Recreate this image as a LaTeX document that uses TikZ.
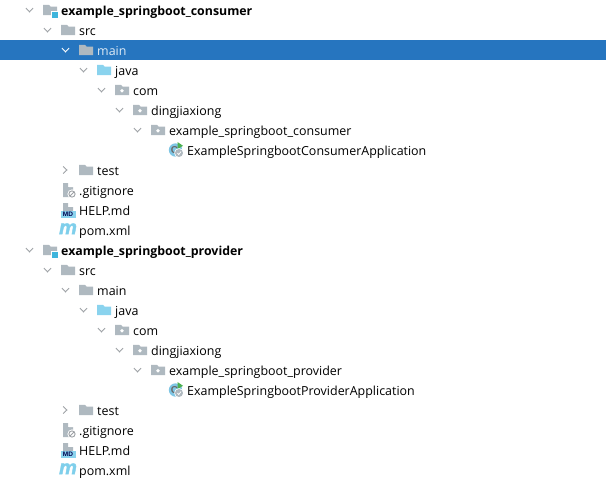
\documentclass[tikz,border=0pt]{standalone}
\usepackage{fontspec}
\setmainfont{Open Sans}
\newfontfamily\iconfont{Liberation Sans}
\newfontfamily\pomfont{Liberation Sans Bold Italic}[FakeBold=2]
\usepackage{xcolor}
\definecolor{rowblue}{HTML}{2675BF}
\definecolor{foldergray}{HTML}{AFB9C0}
\definecolor{sourceblue}{HTML}{8AD3EE}
\definecolor{modblue}{HTML}{3FB5DC}
\definecolor{chevgray}{HTML}{9DA1A5}
\definecolor{runcircle}{HTML}{7FC6E4}
\definecolor{rungreen}{HTML}{4CAF50}

\tikzset{
    rowlabel/.style={anchor=base west, inner sep=0pt, font=\fontsize{12.45}{14}\selectfont, text=black},
    chevdown/.pic={\draw[line width=1pt, pic actions] (-3.5,-1.8) -- (0,1.8) -- (3.5,-1.8);},
    chevright/.pic={\draw[line width=1pt, pic actions] (-1.8,-3.5) -- (1.8,0) -- (-1.8,3.5);},
    folderpic/.pic={\fill[pic actions] (0,-5.2) -- (6,-5.2) -- (7.5,-3.5) -- (14,-3.5) -- (14,5.2) -- (0,5.2) -- cycle;},
    pkgpic/.pic={
        \fill[foldergray] (0,-5.2) -- (6,-5.2) -- (7.5,-3.5) -- (14,-3.5) -- (14,5.2) -- (0,5.2) -- cycle;
        \fill[white] (7,0.8) circle (1.9);
    },
    modulepic/.pic={
        \fill[foldergray] (0,-5.2) -- (6,-5.2) -- (7.5,-3.5) -- (14,-3.5) -- (14,5.2) -- (0,5.2) -- cycle;
        \fill[white] (8,1) rectangle (16,8);
        \fill[modblue] (9.3,2) rectangle (15.3,7.5);
    },
    ignorepic/.pic={
        \fill[foldergray] (0,-7) -- (5,-7) -- (5,-3) -- (10,-3) -- (10,7) -- (0,7) -- cycle;
        \fill[white] (6,-7) -- (10,-3) -- (6,-3) -- cycle;
        \fill[white] (9,4) circle (4.6);
        \draw[chevgray, line width=0.9pt] (9,4) circle (3.1) (6.9,6.1) -- (11.1,1.9);
    },
    mdpic/.pic={
        \fill[foldergray] (2,-7) -- (7,-7) -- (7,-3) -- (12,-3) -- (12,1) -- (2,1) -- cycle;
        \fill[sourceblue] (0,0.5) rectangle (15,7.5);
        \node[inner sep=0pt, text=black!70!blue, font=\fontsize{6.5}{7}\iconfont\bfseries] (badge) at (7,4) {MD};
    },
    pompic/.pic={
        \node[inner sep=0pt, text=sourceblue!85!modblue, font=\fontsize{20}{20}\pomfont] (letter) at (8,-1.2) {m};
    },
    classpic/.pic={
        \fill[runcircle] (6.5,0) circle (6.7);
        \node[inner sep=0pt, text=black!60, font=\fontsize{10}{10}\iconfont\bfseries] (letter) at (5.5,0) {C};
        \fill[rungreen] (8.5,-8) -- (14,-4.2) -- (8.5,-0.8) -- cycle;
        \fill[white] (10,3) circle (4.8);
        \fill[foldergray] (10,3) circle (4);
        \draw[white, line width=0.7pt] (8.4,3) -- (9.8,4.6) -- (12,1.6);
    }
}

\begin{document}
\begin{tikzpicture}[x=1pt, y=-1pt]
    \useasboundingbox (0,0) rectangle (606,482);
    \fill[rowblue] (0,40) rectangle (606,60);

    \foreach \p/\dy/\maincol/\chevcol/\appname/\longname in {a/0/white!85!rowblue/white/consumer/Consumer, b/240/black/chevgray/provider/Provider} {
        \begin{scope}[shift={(0,\dy)}]
            % chevrons
            \pic[chevgray] at (29.5,10) {chevdown};
            \pic[chevgray] at (47.5,30) {chevdown};
            \pic[\chevcol] at (65.5,50) {chevdown};
            \pic[chevgray] at (83.5,70) {chevdown};
            \pic[chevgray] at (101.5,90) {chevdown};
            \pic[chevgray] at (119.5,110) {chevdown};
            \pic[chevgray] at (137.5,130) {chevdown};
            \pic[chevgray] at (65,170) {chevright};

            % icons
            \pic at (43,10) {modulepic};
            \pic[foldergray] at (61,30) {folderpic};
            \pic[foldergray] at (79,50) {folderpic};
            \pic[sourceblue] at (97,70) {folderpic};
            \pic at (115,90) {pkgpic};
            \pic at (133,110) {pkgpic};
            \pic at (151,130) {pkgpic};
            \pic (\p class) at (169,150) {classpic};
            \pic[foldergray] at (79,170) {folderpic};
            \pic at (63,190) {ignorepic};
            \pic (\p md) at (61,210) {mdpic};
            \pic (\p pom) at (60,230) {pompic};

            % labels
            \node[rowlabel, font=\fontsize{12.35}{14}\selectfont\bfseries] (\p root) at (61,15) {example\_springboot\_\appname};
            \node[rowlabel] (\p src) at (79,35) {src};
            \node[rowlabel, text=\maincol] (\p main) at (97,55) {main};
            \node[rowlabel] (\p java) at (115,75) {java};
            \node[rowlabel] (\p com) at (133,95) {com};
            \node[rowlabel] (\p ding) at (151,115) {dingjiaxiong};
            \node[rowlabel] (\p pkg) at (169,135) {example\_springboot\_\appname};
            \node[rowlabel] (\p app) at (187,155) {ExampleSpringboot\longname Application};
            \node[rowlabel] (\p test) at (97,175) {test};
            \node[rowlabel] (\p ignore) at (79,195) {.gitignore};
            \node[rowlabel] (\p help) at (79,215) {HELP.md};
            \node[rowlabel] (\p pomfile) at (79,235) {pom.xml};
        \end{scope}
    }
\end{tikzpicture}
\end{document}
